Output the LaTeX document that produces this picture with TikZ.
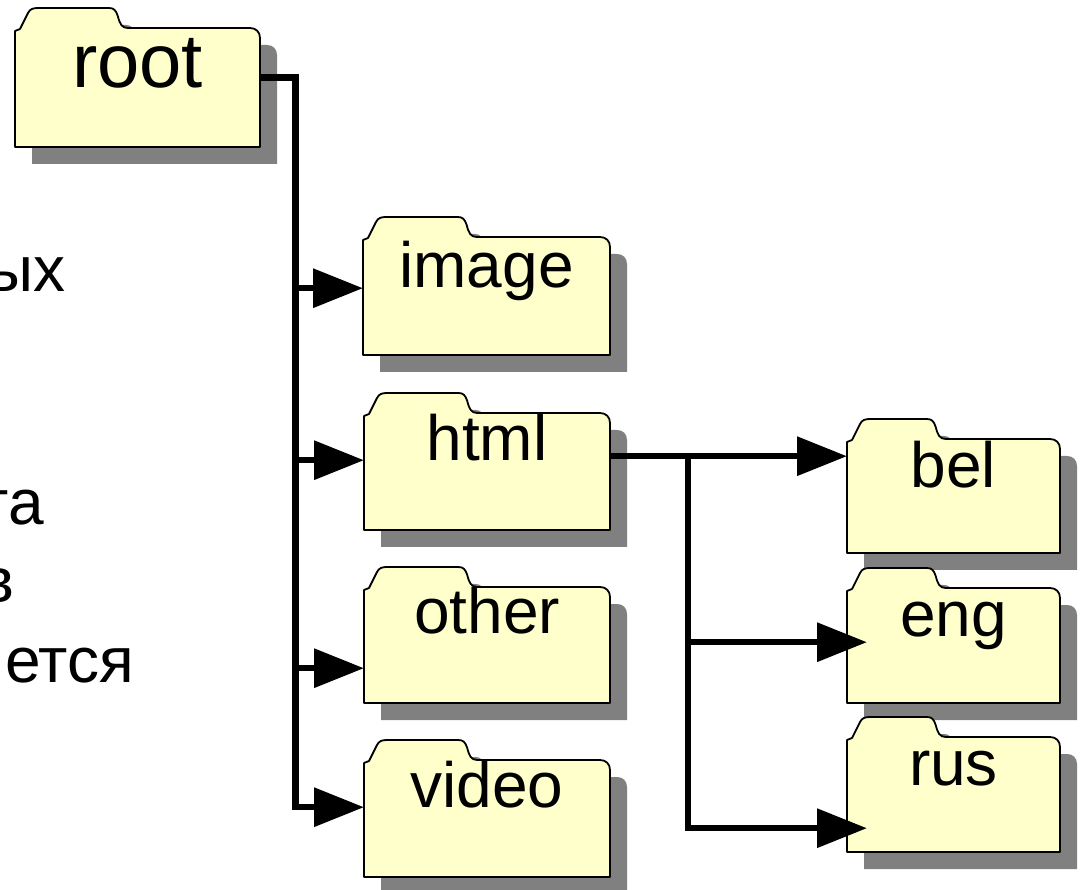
\documentclass[tikz,border=0pt]{standalone}
\usepackage{fontspec}
\setmainfont{Liberation Sans}
\usetikzlibrary{arrows.meta,calc}
\definecolor{folderfill}{RGB}{255,255,204}
\definecolor{shadowgray}{RGB}{128,128,128}
\tikzset{
  conn/.style={line width=6.5pt, line join=miter},
  arr/.style={conn, -{Triangle[length=50pt,width=38pt]}},
  folderline/.style={draw=black, fill=folderfill, line width=1.8pt, line join=round},
  foldershadow/.style={fill=shadowgray},
  lbl/.style={anchor=base, inner sep=0pt, font=\fontsize{64}{70}\selectfont},
  rootlbl/.style={anchor=base, inner sep=0pt, font=\fontsize{76}{82}\selectfont},
  sidetext/.style={anchor=base east, inner sep=0pt, font=\fontsize{64}{70}\selectfont},
  body/.style={anchor=north west, inner sep=0pt, draw=none}
}
% #1 name, #2 L, #3 T, #4 W, #5 H, #6 baseline offset, #7 label style, #8 label
\newcommand\Folder[8]{%
  \pgfmathsetmacro\fE{0.44*#4}%
  \def\fW{#4}\def\fH{#5}%
  \begin{scope}[shift={(#2,#3)}]
    \begin{scope}[shift={(17,17)}]
      \path[foldershadow] (0,\fH) -- (0,3) -- (5,1) -- (13,-15) .. controls (15,-19) and (18,-20) .. (23,-20) -- (\fE-14,-20) .. controls (\fE-9,-20) and (\fE-7,-18) .. (\fE-5,-12) .. controls (\fE-3,-4) and (\fE-1,0) .. (\fE+5,0) -- (\fW-10,0) .. controls (\fW-4,0) and (\fW,4) .. (\fW,10) -- (\fW,\fH) -- cycle;
    \end{scope}
    \path[folderline] (0,\fH) -- (0,3) -- (5,1) -- (13,-15) .. controls (15,-19) and (18,-20) .. (23,-20) -- (\fE-14,-20) .. controls (\fE-9,-20) and (\fE-7,-18) .. (\fE-5,-12) .. controls (\fE-3,-4) and (\fE-1,0) .. (\fE+5,0) -- (\fW-10,0) .. controls (\fW-4,0) and (\fW,4) .. (\fW,10) -- (\fW,\fH) -- cycle;
    \node[body, minimum width=#4, minimum height=#5] (#1) at (0,0) {};
    \node[#7] (#1t) at (\fW/2,#6) {#8};
  \end{scope}%
}
\begin{document}
\begin{tikzpicture}[x=1pt,y=-1pt]
\useasboundingbox (0,0) rectangle (1080,890);

% partially visible text at the left edge
\node[sidetext] (s1) at (66,292) {ых};
\node[sidetext] (s2) at (44,525) {та};
\node[sidetext] (s3) at (15,602) {в};
\node[sidetext] (s4) at (134,682) {ется};

% folders
\Folder{root}{15}{28}{245}{119}{60}{rootlbl}{root}
\Folder{image}{363}{237}{247}{118}{51}{lbl}{image}
\Folder{html}{364}{413}{246}{117}{48}{lbl}{html}
\Folder{other}{364}{587}{246}{116}{46}{lbl}{other}
\Folder{video}{364}{760}{246}{117}{47}{lbl}{video}
\Folder{bel}{847}{439}{213}{114}{49}{lbl}{bel}
\Folder{eng}{847}{588}{213}{115}{49}{lbl}{eng}
\Folder{rus}{847}{737}{213}{115}{48}{lbl}{rus}

% trunk from root
\coordinate (rt) at ($(root.east)+(0,-10)$);
\coordinate (t0) at ($(rt)+(35,0)$);
\coordinate (av) at ($(video.west)+(0,-11.5)$);
\draw[arr] (rt) -- (t0) -- (t0 |- av) -- (av);
\coordinate (ai) at ($(image.west)+(0,-8)$);
\draw[arr] (t0 |- ai) -- (ai);
\coordinate (ah) at ($(html.west)+(0,-11.5)$);
\draw[arr] (t0 |- ah) -- (ah);
\coordinate (ao) at ($(other.west)+(0,23)$);
\draw[arr] (t0 |- ao) -- (ao);

% branch from html
\coordinate (hb) at ($(bel.west)+(0,-40)$);
\draw[arr] (html.east |- hb) -- (hb);
\coordinate (t1) at (688,0);
\coordinate (ae) at ($(eng.west)+(20,-3.5)$);
\coordinate (ar) at ($(rus.west)+(20,33.5)$);
\draw[arr] (t1 |- hb) -- (t1 |- ar) -- (ar);
\draw[arr] (t1 |- ae) -- (ae);
\end{tikzpicture}
\end{document}
